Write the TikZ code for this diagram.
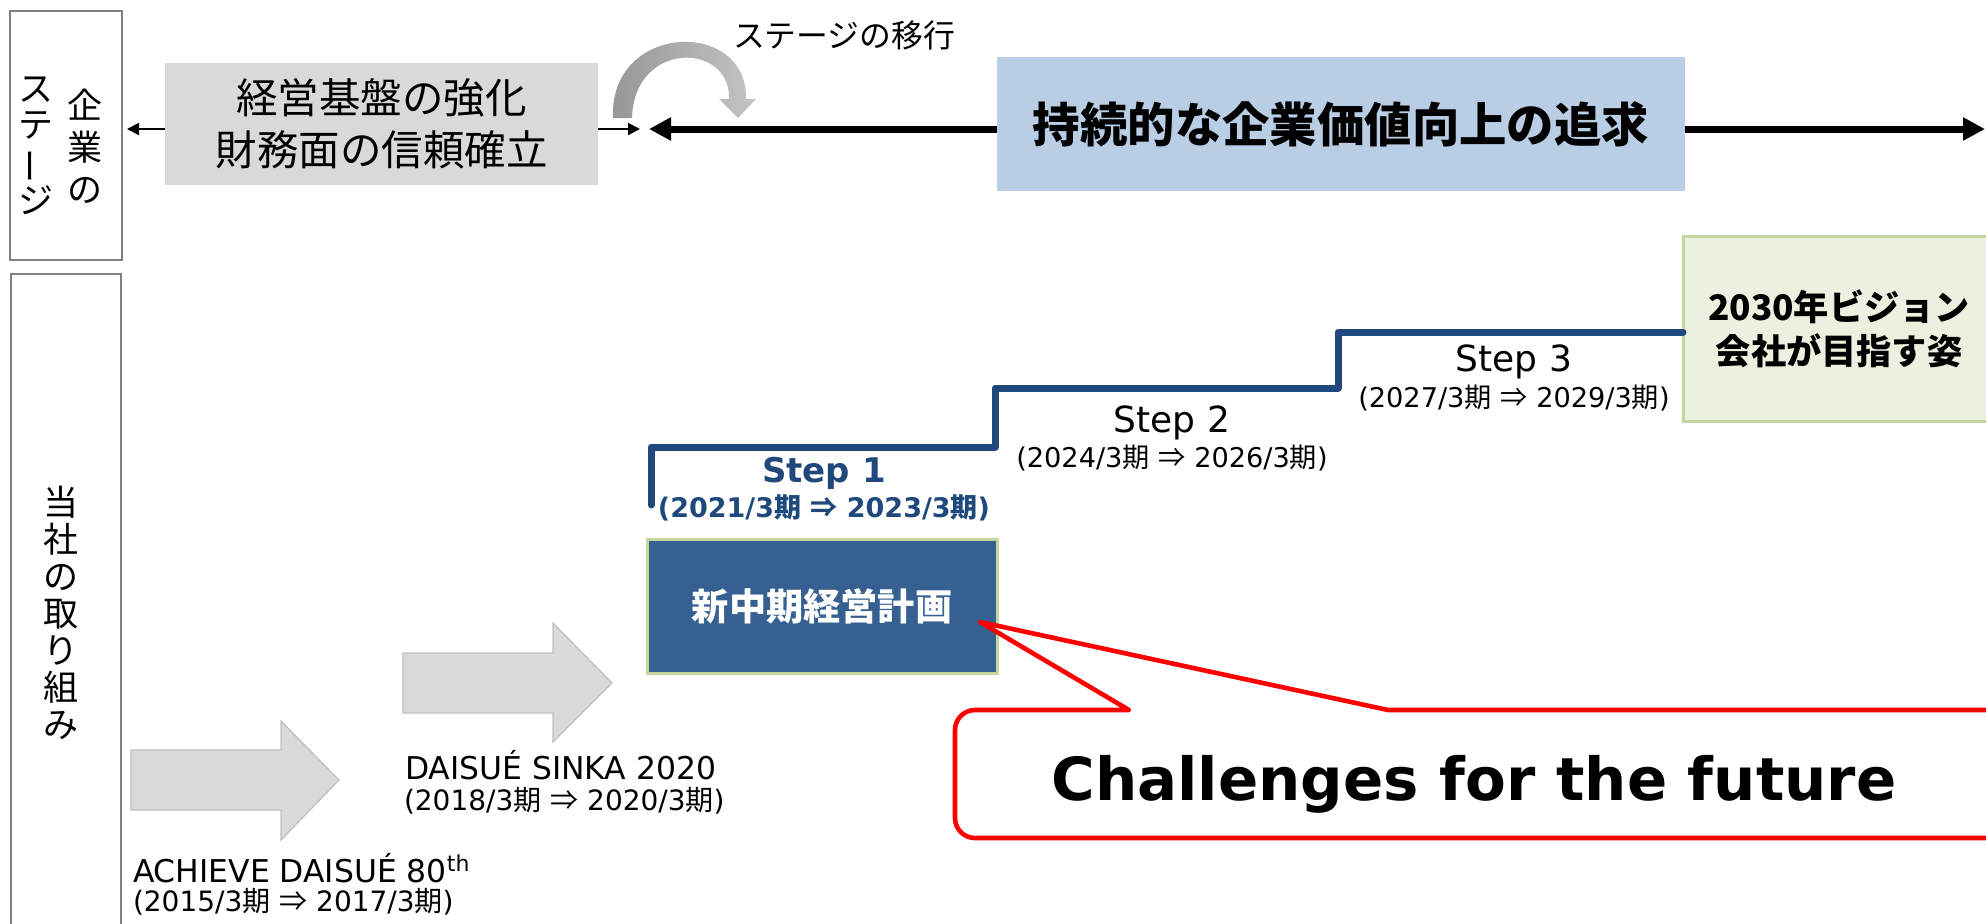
\documentclass[tikz,border=0pt]{standalone}
\usepackage{fontspec}
\setmainfont{DejaVu Sans}
\newfontfamily\jpf{Noto Sans CJK JP}
\usetikzlibrary{arrows.meta}
\definecolor{framegray}{HTML}{7F7F7F}
\definecolor{basegray}{HTML}{D9D9D9}
\definecolor{valueblue}{HTML}{B9CDE5}
\definecolor{visiongreen}{HTML}{EBF1DE}
\definecolor{visionborder}{HTML}{C3D69B}
\definecolor{planblue}{HTML}{376092}
\definecolor{stairblue}{HTML}{1F497D}
\definecolor{arrowgray}{HTML}{D9D9D9}
\definecolor{arrowedge}{HTML}{BFBFBF}
\definecolor{curvedark}{HTML}{969696}
\definecolor{curvelight}{HTML}{C4C4C4}
\newcommand\ki{{\jpf 期}}
\newcommand\imp{{\jpf ⇒}}
\begin{document}
\begin{tikzpicture}[x=0.5pt,y=-0.5pt,
  every node/.style={inner sep=0pt, outer sep=0pt},
  framebox/.style={draw=framegray, line width=1pt},
  smallarrow/.style={line width=1pt, -{Triangle[length=6pt,width=6pt]}},
  bigarrow/.style={line width=3.5pt, {Triangle[length=11pt,width=11pt]}-{Triangle[length=11pt,width=11pt]}},
  stair/.style={draw=stairblue, line width=3.5pt, line join=round, line cap=round},
  blockarrow/.style={fill=arrowgray, draw=arrowedge, line width=0.6pt},
  callout/.style={draw=red, line width=2.3pt, fill=white, line join=round},
  steplbl/.style={font=\fontsize{18}{20}\selectfont},
  stepper/.style={font=\fontsize{13.6}{16}\selectfont},
  phaselbl/.style={anchor=west, font=\fontsize{15.7}{18}\selectfont},
  phaseper/.style={anchor=west, font=\fontsize{14}{16}\selectfont}
]
\useasboundingbox (0,0) rectangle (1986,923);

% left frames
\node[framebox, minimum width=56pt, minimum height=124.5pt] (stage) at (66,135.5) {};
\node[font=\jpf\fontsize{17.5}{21}\selectfont, align=center] (stageA) at (85,146) {企\\業\\の};
\node[font=\jpf\fontsize{17.5}{18}\selectfont, align=center] (stageB) at (36,146) {ス\\テ\\\rotatebox[origin=c]{90}{ー}\\ジ};
\node[framebox, minimum width=55pt, minimum height=330.5pt] (effort) at (66,604.5) {};
\node[font=\jpf\fontsize{17.5}{18.5}\selectfont, align=center] (effortT) at (61,613) {当\\社\\の\\取\\り\\組\\み};

% top row
\coordinate (bigL) at (649,129);
\coordinate (bigR) at (1985,129);
\draw[bigarrow] (bigL) -- (bigR);
\node[fill=basegray, minimum width=216.5pt, minimum height=61pt, align=center,
  font=\jpf\fontsize{20.75}{26}\selectfont] (base) at (381.5,124) {経営基盤の強化\\財務面の信頼確立};
\node[fill=valueblue, minimum width=344pt, minimum height=67pt,
  font=\jpf\bfseries\fontsize{23.7}{28}\selectfont] (value) at (1341,124) {持続的な企業価値向上の追求};
\coordinate (sL) at (127,129);
\coordinate (sR) at (640,129);
\draw[smallarrow] (base.west |- sL) -- (sL);
\draw[smallarrow] (base.east |- sR) -- (sR);

% curved transition arrow
\shade[left color=curvedark, right color=curvelight]
  (613,118) .. controls (609,22) and (748,18) .. (746,99) -- (756,99) -- (738,118) -- (719,99) -- (729,99)
  .. controls (731,42) and (634,40) .. (632,118) -- cycle;
\node[font=\jpf\fontsize{15.9}{18}\selectfont] (shift) at (844,35) {ステージの移行};

% vision box
\node[fill=visiongreen, draw=visionborder, line width=1.5pt, minimum width=156pt, minimum height=92.5pt,
  align=center, font=\jpf\bfseries\fontsize{17.6}{22}\selectfont] (vision) at (1839,328.5) {2030年ビジョン\\会社が目指す姿};

% staircase
\coordinate (st0) at (651,505);
\coordinate (st1) at (651,447);
\coordinate (st2) at (995,447);
\coordinate (st3) at (995,388);
\coordinate (st4) at (1338,388);
\coordinate (st5) at (1338,332);
\draw[stair] (st0) -- (st1) -- (st2) -- (st3) -- (st4) -- (st5) -- (vision.west |- st5);

\node[font=\bfseries\fontsize{17}{20}\selectfont, text=stairblue] (step1) at (824,473) {Step 1};
\node[font=\bfseries\fontsize{13.5}{16}\selectfont, text=stairblue] (step1p) at (824,508) {(2021/3\ki{} \imp{} 2023/3\ki)};
\node[steplbl] (step2) at (1172,423) {Step 2};
\node[stepper] (step2p) at (1172,458) {(2024/3\ki{} \imp{} 2026/3\ki)};
\node[steplbl] (step3) at (1514,362) {Step 3};
\node[stepper] (step3p) at (1514,398) {(2027/3\ki{} \imp{} 2029/3\ki)};

% plan box
\node[fill=planblue, draw=visionborder, line width=1.5pt, minimum width=175pt, minimum height=67pt,
  text=white, font=\jpf\bfseries\fontsize{18.6}{22}\selectfont] (plan) at (822,606) {新中期経営計画};

% block arrows
\filldraw[blockarrow] (131,750) -- (281,750) -- (281,721) -- (339,780) -- (281,840) -- (281,810) -- (131,810) -- cycle;
\filldraw[blockarrow] (403,653) -- (553,653) -- (553,623) -- (612,683) -- (553,742) -- (553,713) -- (403,713) -- cycle;
\node[phaselbl] (p2) at (405,765) {DAISUÉ SINKA 2020};
\node[phaseper] (p2p) at (404,801) {(2018/3\ki{} \imp{} 2020/3\ki)};
\node[phaselbl] (p1) at (133,868) {ACHIEVE DAISUÉ 80\textsuperscript{th}};
\node[phaseper] (p1p) at (133,902) {(2015/3\ki{} \imp{} 2017/3\ki)};

% callout
\coordinate (tip) at (980,622);
\coordinate (cbL) at (1129,710);
\coordinate (cbR) at (1388,710);
\draw[callout] (tip) -- (cbR) -- (2000,710) -- (2000,838) -- (975,838)
  arc[start angle=90,end angle=180,radius=20] -- (955,730)
  arc[start angle=180,end angle=270,radius=20] -- (cbL) -- cycle;
\node[font=\bfseries\fontsize{29.7}{34}\selectfont, anchor=base] (chal) at (1474,800) {Challenges for the future};
\end{tikzpicture}
\end{document}
